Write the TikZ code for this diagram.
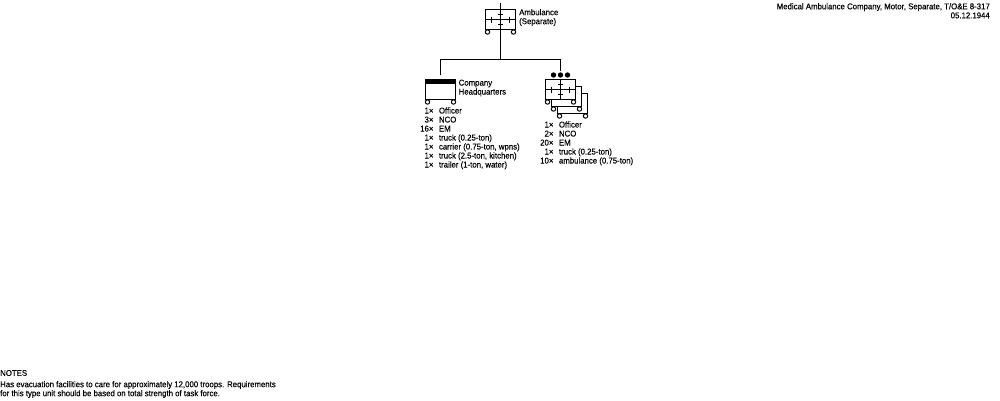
\documentclass[tikz,border=0pt]{standalone}
\usepackage{fontspec}
\setmainfont[FakeStretch=0.93,FakeBold=0.25]{Liberation Sans}
\tikzset{
  x=1pt, y=-1pt,
  rule/.style={draw=black, line width=1pt},
  unitbox/.style={rule, fill=white, rectangle, minimum width=30pt, minimum height=20pt, inner sep=0pt, outer sep=0pt},
  wheel/.style={rule, fill=white, circle, minimum size=4.4pt, inner sep=0pt},
  dot/.style={fill=black, circle, minimum size=5.4pt, inner sep=0pt},
  txt/.style={font=\fontsize{8.4}{9}\selectfont, inner sep=0pt, align=left},
  bar/.style={fill=black, rectangle, minimum width=30pt, minimum height=4pt, inner sep=0pt},
}
% Wheeled vehicle box: #1 node name, #2 centre
\newcommand{\vehicle}[2]{%
  \node[unitbox] (#1) at (#2) {};
  \node[wheel] (#1wl) at ([xshift=-13pt,yshift=-12.5pt]#1.center) {};
  \node[wheel] (#1wr) at ([xshift=13pt,yshift=-12.5pt]#1.center) {};
}
% Medical cross with tick marks inside a vehicle box
\newcommand{\medcross}[1]{%
  \draw[rule] (#1.west) -- (#1.east) (#1.north) -- (#1.south);
  \draw[rule] ([xshift=-2.5pt,yshift=5pt]#1.center) -- ([xshift=2.5pt,yshift=5pt]#1.center);
  \draw[rule] ([xshift=-2.5pt,yshift=-5pt]#1.center) -- ([xshift=2.5pt,yshift=-5pt]#1.center);
  \draw[rule] ([xshift=-9pt,yshift=3pt]#1.center) -- ([xshift=-9pt,yshift=-3pt]#1.center);
  \draw[rule] ([xshift=9pt,yshift=3pt]#1.center) -- ([xshift=9pt,yshift=-3pt]#1.center);
}
\begin{document}
\begin{tikzpicture}
\useasboundingbox[fill=white] (0,0) rectangle (1000,400);

% Connecting tree
\coordinate (top) at (500.5,3);
\coordinate (bus) at (500.5,59.5);
\coordinate (hqdrop) at (440.5,75);
\coordinate (plgdrop) at (560.5,71);

% Company symbol
\vehicle{co}{500.5,19.5}
\medcross{co}
\draw[rule] (top) -- (co.north);
\draw[rule] (co.south) -- (bus);
\draw[rule] (hqdrop) |- (bus) -| (plgdrop);
\node[txt, anchor=west] (colabel) at (519,17.5) {Ambulance\\(Separate)};

% Company headquarters
\vehicle{hq}{440.5,89.5}
\node[bar, anchor=north] (hqbar) at (hq.north) {};
\node[txt, anchor=west] (hqlabel) at (458.5,88) {Company\\Headquarters};
\node[txt, anchor=north west] (hqlist) at (420,107) {%
  \begin{tabular}{@{}r@{\hspace{5.5pt}}l@{}}
  1× & Officer\\ 3× & NCO\\ 16× & EM\\ 1× & truck (0.25-ton)\\
  1× & carrier (0.75-ton, wpns)\\ 1× & truck (2.5-ton, kitchen)\\ 1× & trailer (1-ton, water)
  \end{tabular}};

% Ambulance platoons, stacked
\vehicle{plc}{572.5,103.5}
\vehicle{plb}{566.5,96.5}
\vehicle{pla}{560.5,89.5}
\medcross{pla}
\node[dot] (d1) at (553.5,75) {};
\node[dot] (d2) at (560.5,75) {};
\node[dot] (d3) at (567.5,75) {};
\node[txt, anchor=north west] (pllist) at (540,121) {%
  \begin{tabular}{@{}r@{\hspace{5.5pt}}l@{}}
  1× & Officer\\ 2× & NCO\\ 20× & EM\\ 1× & truck (0.25-ton)\\ 10× & ambulance (0.75-ton)
  \end{tabular}};

% Title block
\node[txt, anchor=north east, align=right] (title) at (990,3) {Medical Ambulance Company, Motor, Separate, T/O\&E 8-317\\05.12.1944};

% Notes
\node[txt, anchor=west] (noteshead) at (0,373) {NOTES};
\node[txt, anchor=west] (notes) at (0,389.5) {Has evacuation facilities to care for approximately 12,000 troops. Requirements\\for this type unit should be based on total strength of task force.};
\end{tikzpicture}
\end{document}
